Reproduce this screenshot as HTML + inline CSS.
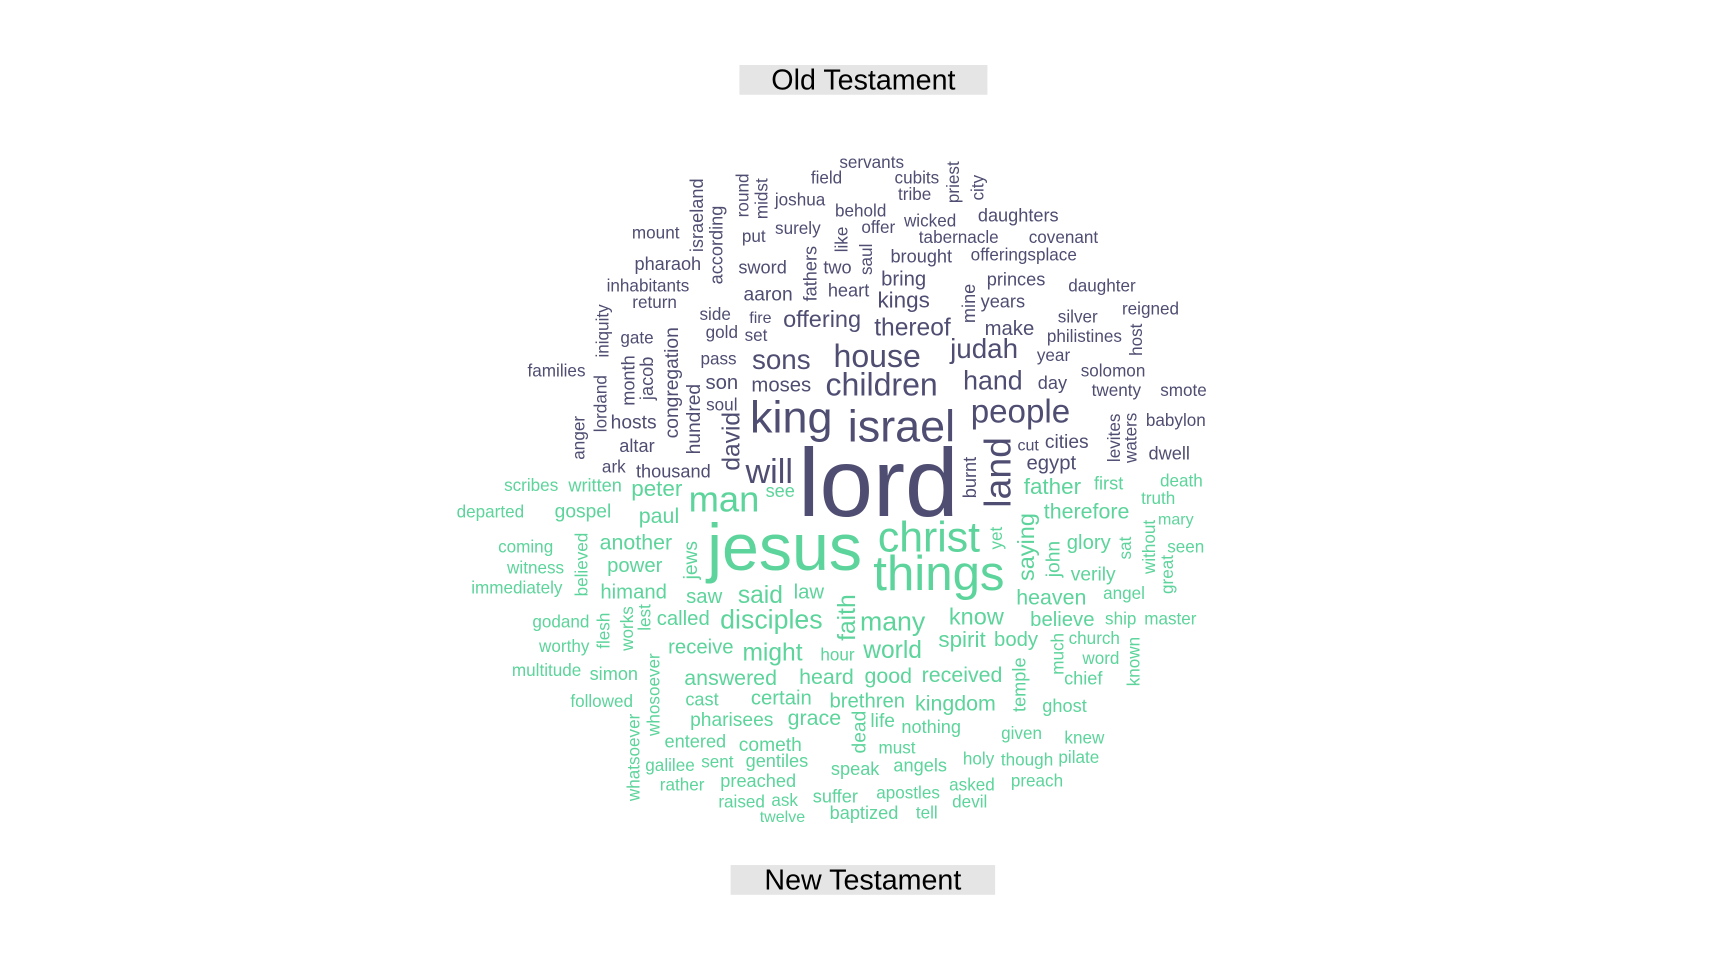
<!DOCTYPE html>
<html><head><meta charset="utf-8">
<style>
html,body{margin:0;padding:0;background:#fff;}
body{width:1728px;height:960px;overflow:hidden;position:relative;}
#stage{position:absolute;left:0;top:0;width:1568px;height:871px;transform-origin:0 0;transform:scale(1.1020);}
.w{position:absolute;white-space:nowrap;font-family:"Liberation Sans",Arial,sans-serif;line-height:1;}
.title{position:absolute;background:#e5e5e5;font-family:"Liberation Sans",Arial,sans-serif;font-size:26px;color:#000;text-align:center;line-height:27px;}
</style></head><body>
<div id="stage">
<div class="title" style="left:671px;top:59px;width:225px;height:27px;">Old Testament</div>
<div class="title" style="left:663px;top:785px;width:240px;height:27px;">New Testament</div>
</div>
<script>
var oldWords=[["servants",791,148,16,0],["field",750,162,16,0],["cubits",832,162,16,0],["priest",866,165,16,1],["city",888,170,16,1],["tribe",830,177,16,0],["round",675,177,16,1],["midst",692,180,16,1],["israeland",633,195,17,1],["joshua",726,182,16,0],["behold",781,192,16,0],["daughters",924,196,17,0],["wicked",844,201,16,0],["according",651,222,17,1],["mount",595,212,16,0],["put",684,215,16,0],["surely",724,208,16,0],["like",765,217,16,1],["offer",797,207,16,0],["tabernacle",870,216,16,0],["covenant",965,216,16,0],["pharaoh",606,240,17,0],["sword",692,243,17,0],["fathers",736,248,17,1],["two",760,243,17,0],["saul",787,235,16,1],["brought",836,233,17,0],["offeringsplace",929,232,16,0],["bring",820,253,19,0],["princes",922,254,17,0],["inhabitants",588,260,16,0],["aaron",697,267,18,0],["heart",770,264,17,0],["kings",820,273,21,0],["mine",880,275,17,1],["years",910,274,17,0],["daughter",1000,260,16,0],["return",594,275,16,0],["reigned",1044,281,16,0],["iniquity",548,300,16,1],["side",649,286,16,0],["fire",690,289,15,0],["offering",746,290,22,0],["thereof",828,297,23,0],["make",916,298,19,0],["silver",978,288,16,0],["gold",655,302,16,0],["set",686,305,16,0],["gate",578,307,16,0],["congregation",610,347,18,1],["philistines",984,306,16,0],["host",1032,308,16,1],["pass",652,326,16,0],["sons",709,327,26,0],["house",796,324,30,0],["judah",893,317,26,0],["year",956,323,16,0],["families",505,337,16,0],["month",571,345,17,1],["jacob",588,343,17,1],["solomon",1010,337,16,0],["son",655,347,19,0],["moses",709,349,19,0],["children",800,350,30,0],["hand",901,346,25,0],["day",955,348,17,0],["lordand",546,366,16,1],["hundred",630,380,18,1],["twenty",1013,355,16,0],["smote",1074,355,16,0],["soul",655,368,16,0],["king",718,378,42,0],["israel",818,386,42,0],["people",926,374,31,0],["anger",526,397,16,1],["hosts",575,383,18,0],["levites",1012,397,16,1],["waters",1027,397,16,1],["babylon",1067,382,16,0],["david",664,400,23,1],["altar",578,405,17,0],["cut",933,405,15,0],["cities",968,401,18,0],["burnt",881,433,17,1],["land",907,428,35,1],["egypt",954,420,19,0],["dwell",1061,412,17,0],["ark",557,424,16,0],["thousand",611,428,17,0],["will",698,427,32,0],["lord",797,437,90,0]];
var newWords=[["scribes",482,441,16,0],["written",540,441,17,0],["peter",596,444,21,0],["see",708,446,17,0],["man",657,452,34,0],["father",955,442,21,0],["first",1006,439,17,0],["death",1072,437,16,0],["truth",1051,453,16,0],["departed",445,465,16,0],["gospel",529,464,18,0],["paul",598,469,20,0],["therefore",986,465,20,0],["mary",1067,472,15,0],["jesus",712,496,62,0],["christ",843,488,40,0],["believed",529,512,16,1],["jews",627,508,18,1],["yet",905,488,16,1],["saying",932,496,22,1],["glory",988,492,19,0],["without",1044,496,16,1],["sat",1022,497,16,1],["seen",1076,497,16,0],["coming",477,497,16,0],["another",577,493,20,0],["power",576,513,19,0],["things",852,521,46,0],["john",956,507,18,1],["verily",992,521,18,0],["great",1060,521,16,1],["witness",486,516,16,0],["immediately",469,534,16,0],["himand",575,537,19,0],["saw",639,541,19,0],["said",690,540,23,0],["law",734,537,19,0],["faith",769,560,23,1],["heaven",954,543,20,0],["angel",1020,539,16,0],["lest",586,560,16,1],["called",620,561,19,0],["disciples",700,563,25,0],["many",810,565,25,0],["know",886,560,22,0],["believe",964,562,19,0],["ship",1017,562,16,0],["master",1062,562,16,0],["godand",509,565,16,0],["flesh",549,572,16,1],["works",570,570,16,1],["spirit",873,581,21,0],["body",922,580,19,0],["church",993,580,16,0],["much",961,593,16,1],["known",1030,600,16,1],["worthy",512,587,16,0],["receive",636,587,19,0],["might",701,592,23,0],["hour",760,595,16,0],["world",810,590,23,0],["word",999,598,16,0],["whosoever",594,630,16,1],["multitude",496,609,16,0],["simon",557,612,17,0],["answered",663,616,20,0],["heard",750,615,20,0],["good",806,614,20,0],["received",873,613,20,0],["temple",926,621,17,1],["chief",983,616,17,0],["followed",546,637,16,0],["cast",637,635,17,0],["certain",709,633,19,0],["brethren",787,636,19,0],["kingdom",867,639,20,0],["ghost",966,641,17,0],["whatsoever",576,687,16,1],["pharisees",664,653,18,0],["grace",739,652,20,0],["life",801,654,18,0],["dead",780,664,18,1],["nothing",845,660,17,0],["given",927,666,16,0],["knew",984,670,16,0],["entered",631,673,17,0],["cometh",699,676,18,0],["must",814,679,16,0],["holy",888,689,16,0],["though",932,690,16,0],["pilate",979,688,16,0],["galilee",608,695,16,0],["sent",651,692,16,0],["gentiles",705,691,17,0],["speak",776,698,17,0],["angels",835,695,17,0],["rather",619,713,16,0],["preached",688,709,17,0],["asked",882,713,16,0],["preach",941,709,16,0],["raised",673,728,16,0],["ask",712,727,16,0],["suffer",758,723,17,0],["apostles",824,720,16,0],["devil",880,728,16,0],["twelve",710,742,15,0],["baptized",784,738,17,0],["tell",841,738,16,0]];
var groupColors=["#4f4e72","#5dd49b"];
var stage=document.getElementById('stage');
function draw(list,color){
  list.forEach(function(d){
    var el=document.createElement('div');
    el.className='w';
    el.textContent=d[0];
    
    
    el.style.left=d[1]+'px';
    el.style.top=d[2]+'px';
    el.style.fontSize=(d[3]*0.97)+'px';
    el.style.color=color;
    el.style.transform='translate(-50%,-48%)'+(d[4]?' rotate(-90deg)':'');
    stage.appendChild(el);
  });
}
draw(oldWords,groupColors[0]);
draw(newWords,groupColors[1]);
</script>
</body></html>
